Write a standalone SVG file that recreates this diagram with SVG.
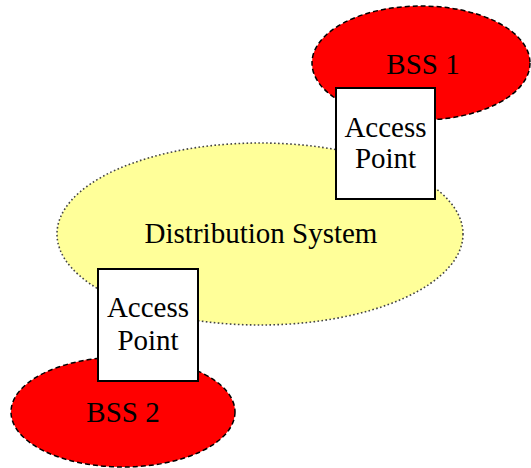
<svg xmlns="http://www.w3.org/2000/svg" width="531" height="468" viewBox="0 0 531 468">
  <style>
    .bss { fill: #ff0000; stroke: #000000; stroke-width: 1.5; stroke-dasharray: 5 3; }
    .ds { fill: #ffff99; stroke: #444444; stroke-width: 1.6; stroke-dasharray: 1.6 2.4; }
    .ap { fill: #ffffff; stroke: #000000; stroke-width: 2; }
    text { font-family: "Liberation Serif", "Times New Roman", serif; font-size: 29px; fill: #000000; text-anchor: middle; }
  </style>
  <rect width="531" height="468" fill="#ffffff"/>
  <g id="connectors"></g>
  <g id="distribution-system">
    <ellipse class="ds" cx="260" cy="234" rx="203" ry="91"/>
    <text x="261" y="243">Distribution System</text>
  </g>
  <g id="bss1">
    <ellipse class="bss" cx="421" cy="63" rx="109" ry="57"/>
    <text x="423" y="74">BSS 1</text>
  </g>
  <g id="bss2">
    <ellipse class="bss" cx="123" cy="412" rx="112" ry="55"/>
    <text x="123" y="422">BSS 2</text>
  </g>
  <g id="access-point-1">
    <rect class="ap" x="336" y="88" width="99" height="111"/>
    <text x="385.5" y="137">Access</text>
    <text x="385.5" y="168">Point</text>
  </g>
  <g id="access-point-2">
    <rect class="ap" x="98" y="269" width="100" height="112"/>
    <text x="148" y="317">Access</text>
    <text x="148" y="350">Point</text>
  </g>
</svg>
